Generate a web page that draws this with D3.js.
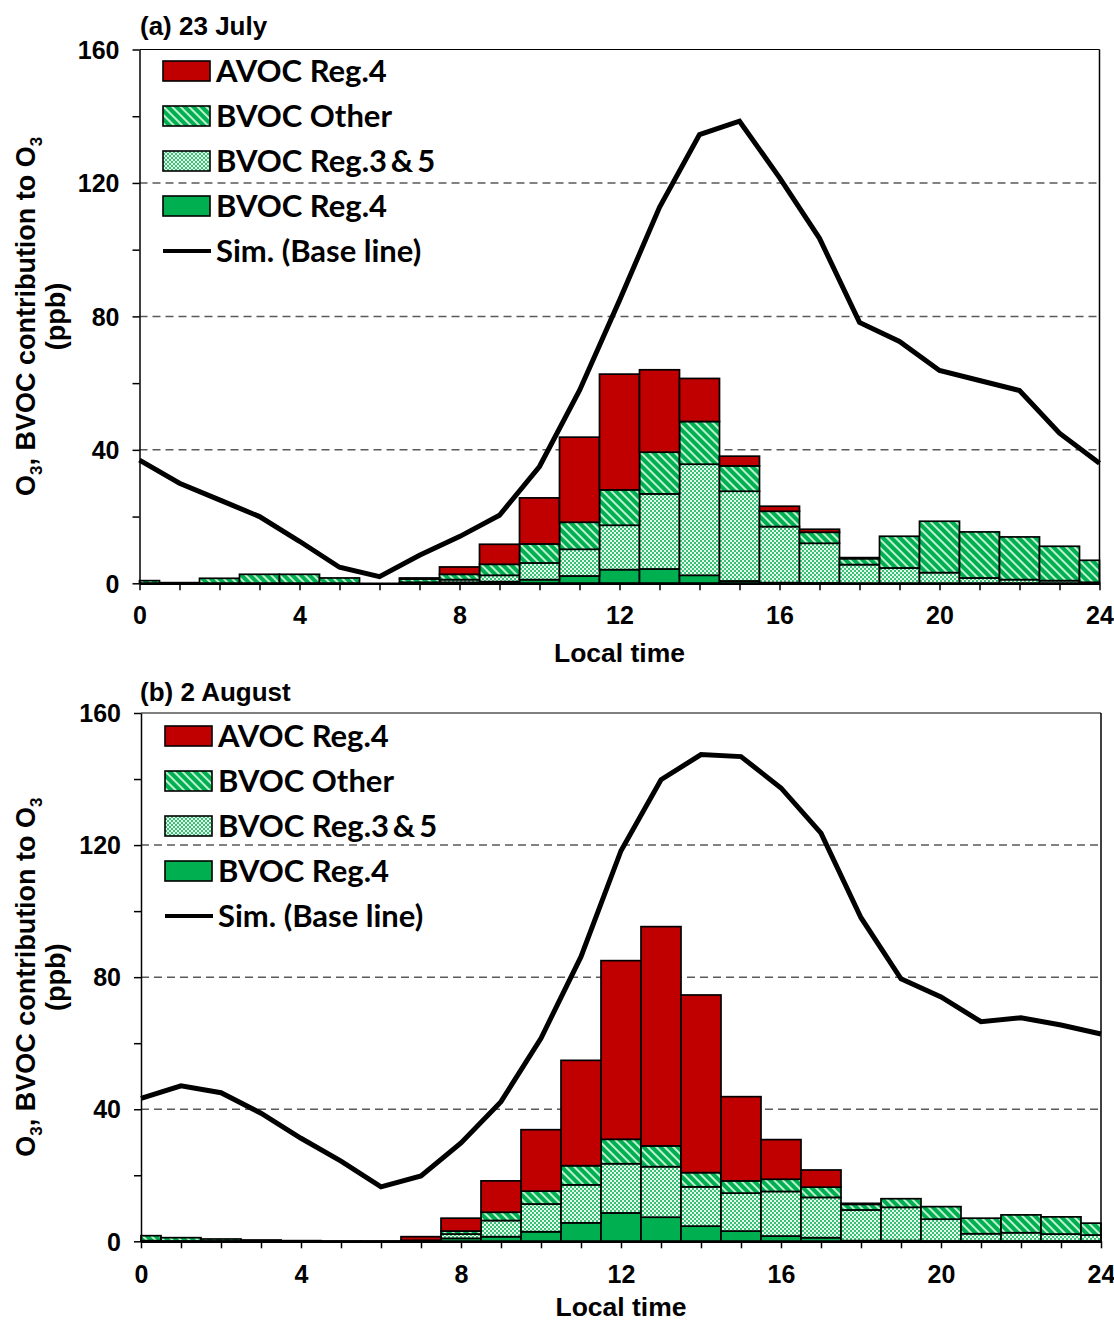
<!DOCTYPE html>
<html>
<head>
<meta charset="utf-8">
<script src="https://cdn.jsdelivr.net/npm/d3@7"></script>
<style>
  html, body { margin: 0; padding: 0; background: #fff; }
  svg { display: block; }
</style>
</head>
<body>
<svg id="chart" width="1114" height="1321"></svg>
<script>
// Hourly contributions to O3 (ppb), hours 0..24
const hours = d3.range(0, 25);

// (a) 23 July
const julBvocReg4  = [0,0,0,0,0,0,0,0,0.3,0.5,1.1,2.2,4.1,4.3,2.4,0.7,0.2,0.1,0,0,0,0,0,0,0];
const julBvocReg35 = [0,0,0,0,0,0,0,0.3,0.8,1.9,5.0,8.0,13.3,22.5,33.3,26.9,16.8,11.9,5.6,4.6,3.2,1.6,1.1,0.8,0.3];
const julBvocOther = [0.8,0.2,1.5,2.7,2.7,1.6,0,1.0,1.6,3.3,5.7,8.1,10.6,12.5,12.8,7.6,4.6,3.3,1.8,9.5,15.4,13.8,12.8,10.3,6.6];
const julAvocReg4  = [0,0,0,0,0,0,0,0.3,2.2,6.0,13.8,25.5,34.7,24.7,12.9,2.9,1.5,0.9,0.3,0,0,0,0,0,0];
const julSim       = [36.9,30.0,25.0,20.0,12.6,4.8,2.0,8.4,14.0,20.4,35.0,57.8,84.8,112.7,134.5,138.5,121.6,103.4,78.2,72.5,63.8,60.8,57.8,45.0,36.0];

// (b) 2 August
const augBvocReg4  = [0,0,0,0,0,0,0,0,0.9,1.4,2.9,5.6,8.6,7.3,4.6,3.1,1.6,1.1,0.2,0.2,0.1,0.1,0.1,0.1,0.1];
const augBvocReg35 = [0.2,0.1,0.1,0.1,0.1,0.1,0.1,0.1,1.3,4.9,8.4,11.5,14.9,15.3,11.9,11.5,13.5,12.2,9.3,10.1,6.6,2.2,2.5,2.1,1.8];
const augBvocOther = [1.5,1.0,0.6,0.3,0.1,0,0,0.2,0.9,2.5,3.9,5.8,7.4,6.3,4.3,3.7,3.7,3.1,1.7,2.6,3.8,4.7,5.4,5.2,3.6];
const augAvocReg4  = [0,0,0,0,0,0,0,1.1,3.9,9.5,18.6,31.9,54.1,66.4,53.8,25.5,12.0,5.2,0.3,0,0,0,0,0,0];
const augSim       = [43.3,47.1,45.0,38.8,31.2,24.3,16.5,19.8,29.8,42.3,61.5,86.2,118.3,139.8,147.4,146.8,137.3,123.6,98.0,79.5,74.0,66.5,67.7,65.5,62.8];

// Axis ticks and labels
const xTickValues = d3.range(0, 25, 1);
const xLabelValues = [0, 4, 8, 12, 16, 20, 24];
const yTickValues = d3.range(0, 161, 20);
const yLabelValues = [0, 40, 80, 120, 160];
const gridValues = [40, 80, 120];

const seriesKeys = ["bvocReg4", "bvocReg35", "bvocOther", "avocReg4"];
const legendItems = [
  { key: "avocReg4",  label: "AVOC Reg.4" },
  { key: "bvocOther", label: "BVOC Other" },
  { key: "bvocReg35", label: "BVOC Reg.3\u2009&\u20095" },
  { key: "bvocReg4",  label: "BVOC Reg.4" },
  { key: "sim",       label: "Sim. (Base line)" }
];

const panels = [
  { title: "(a) 23 July", reg4: julBvocReg4, reg35: julBvocReg35, other: julBvocOther, avoc: julAvocReg4, sim: julSim,
    x0: 139.5, x1: 1099.5, yBottom: 583.3, yTop: 49.5, titleY: 35, xLabelY: 624, xTitleY: 662, legendX: 163, legendY: 71 },
  { title: "(b) 2 August", reg4: augBvocReg4, reg35: augBvocReg35, other: augBvocOther, avoc: augAvocReg4, sim: augSim,
    x0: 141, x1: 1101, yBottom: 1241.3, yTop: 713, titleY: 701, xLabelY: 1283, xTitleY: 1316, legendX: 165, legendY: 736 }
];

const svg = d3.select("#chart");
const defs = svg.append("defs");

// Diagonal stripes for "BVOC Other"
const hatch = defs.append("pattern")
  .attr("id", "hatchOther").attr("patternUnits", "userSpaceOnUse")
  .attr("width", 6).attr("height", 6)
  .attr("patternTransform", "rotate(-45)");
hatch.append("rect").attr("width", 6).attr("height", 6).attr("fill", "#00B050");
hatch.append("rect").attr("x", 0).attr("y", 0).attr("width", 2).attr("height", 6).attr("fill", "#bff0d2");

// Fine dotted grid for "BVOC Reg.3 & 5"
const dots = defs.append("pattern")
  .attr("id", "dotReg35").attr("patternUnits", "userSpaceOnUse")
  .attr("width", 4).attr("height", 4);
dots.append("rect").attr("width", 4).attr("height", 4).attr("fill", "#e6f8ec");
dots.append("rect").attr("x", 0).attr("y", 0).attr("width", 2).attr("height", 2).attr("fill", "#38c275");
dots.append("rect").attr("x", 2).attr("y", 2).attr("width", 2).attr("height", 2).attr("fill", "#38c275");

const fills = {
  bvocReg4: "#00B050",
  bvocReg35: "url(#dotReg35)",
  bvocOther: "url(#hatchOther)",
  avocReg4: "#C00000"
};

const tickFont = "'Liberation Sans', Arial, sans-serif";
const legendFont = "Lato, 'Open Sans', sans-serif";

panels.forEach(p => {
  const x = d3.scaleLinear().domain([0, 24]).range([p.x0, p.x1]);
  const y = d3.scaleLinear().domain([0, 160]).range([p.yBottom, p.yTop]);
  const g = svg.append("g");

  // dashed gridlines
  g.append("g").selectAll("line").data(gridValues).join("line")
    .attr("x1", x(0)).attr("x2", x(24))
    .attr("y1", d => y(d)).attr("y2", d => y(d))
    .attr("stroke", "#5a5a5a").attr("stroke-width", 1.5)
    .attr("stroke-dasharray", "8,5");

  // stacked bars
  const rows = hours.map((h, i) => ({
    hour: h,
    bvocReg4: p.reg4[i], bvocReg35: p.reg35[i], bvocOther: p.other[i], avocReg4: p.avoc[i]
  }));
  const stacked = d3.stack().keys(seriesKeys)(rows);
  const barLeft = h => x(Math.max(0, h - 0.5));
  const barRight = h => x(Math.min(24, h + 0.5));

  g.append("g").selectAll("g").data(stacked).join("g")
    .attr("fill", s => fills[s.key])
    .selectAll("rect").data(s => s.filter(d => d[1] - d[0] > 0)).join("rect")
      .attr("x", d => barLeft(d.data.hour))
      .attr("width", d => barRight(d.data.hour) - barLeft(d.data.hour))
      .attr("y", d => y(d[1]))
      .attr("height", d => y(d[0]) - y(d[1]))
      .attr("stroke", "#000").attr("stroke-width", 1.7);

  // simulated O3 line
  const line = d3.line().x((d, i) => x(hours[i])).y(d => y(d));
  g.append("path").datum(p.sim)
    .attr("d", line).attr("fill", "none")
    .attr("stroke", "#000").attr("stroke-width", 5)
    .attr("stroke-linejoin", "miter");

  // axes
  const xAxis = d3.axisBottom(x).tickValues(xTickValues).tickSizeInner(7).tickSizeOuter(0)
    .tickFormat(d => xLabelValues.includes(d) ? d : "");
  const xg = g.append("g").attr("transform", `translate(0,${y(0)})`).call(xAxis);
  xg.select(".domain").attr("stroke-width", 2.5);
  xg.selectAll(".tick line").attr("stroke-width", 1.5);
  xg.selectAll("text").attr("font-family", tickFont).attr("font-weight", "bold")
    .attr("font-size", 25).attr("fill", "#000").attr("dy", null).attr("y", null)
    .attr("transform", `translate(0,${p.xLabelY - y(0)})`);

  const yAxis = d3.axisLeft(y).tickValues(yTickValues).tickSizeInner(7).tickSizeOuter(0)
    .tickFormat(d => yLabelValues.includes(d) ? d : "");
  const yg = g.append("g").attr("transform", `translate(${x(0)},0)`).call(yAxis);
  yg.select(".domain").attr("stroke-width", 1.5);
  yg.selectAll(".tick line").attr("stroke-width", 1.5);
  yg.selectAll("text").attr("font-family", tickFont).attr("font-weight", "bold")
    .attr("font-size", 25).attr("fill", "#000").attr("x", -20).attr("dy", "0.35em");

  // right and top frame
  g.append("line").attr("x1", x(24)).attr("x2", x(24)).attr("y1", y(0)).attr("y2", y(160))
    .attr("stroke", "#000").attr("stroke-width", 1.5);
  g.append("line").attr("x1", x(0)).attr("x2", x(24)).attr("y1", y(160)).attr("y2", y(160))
    .attr("stroke", "#000").attr("stroke-width", 1.2);

  // panel title
  g.append("text").attr("x", 140).attr("y", p.titleY).text(p.title)
    .attr("font-family", tickFont).attr("font-weight", "bold").attr("font-size", 26);

  // x title
  g.append("text").attr("x", (x(0) + x(24)) / 2).attr("y", p.xTitleY)
    .attr("text-anchor", "middle").text("Local time")
    .attr("font-family", tickFont).attr("font-weight", "bold").attr("font-size", 26.5);

  // y title (two lines)
  const cy = (y(0) + y(160)) / 2;
  const yt = g.append("text").attr("transform", `translate(35,${cy}) rotate(-90)`)
    .attr("text-anchor", "middle")
    .attr("font-family", tickFont).attr("font-weight", "bold").attr("font-size", 27);
  yt.append("tspan").text("O");
  yt.append("tspan").text("3").attr("font-size", 17).attr("dy", 7);
  yt.append("tspan").text(", BVOC contribution to O").attr("dy", -7);
  yt.append("tspan").text("3").attr("font-size", 17).attr("dy", 7);
  g.append("text").attr("transform", `translate(65,${cy}) rotate(-90)`)
    .attr("text-anchor", "middle").text("(ppb)")
    .attr("font-family", tickFont).attr("font-weight", "bold").attr("font-size", 27);

  // legend
  const lg = g.append("g").attr("transform", `translate(${p.legendX},${p.legendY})`);
  legendItems.forEach((it, i) => {
    const row = lg.append("g").attr("transform", `translate(0,${i * 45})`);
    if (it.key === "sim") {
      row.append("line").attr("x1", 0).attr("x2", 48).attr("y1", 0).attr("y2", 0)
        .attr("stroke", "#000").attr("stroke-width", 4);
    } else {
      row.append("rect").attr("x", 0).attr("y", -10).attr("width", 47).attr("height", 20)
        .attr("fill", fills[it.key]).attr("stroke", "#000").attr("stroke-width", 1.6);
    }
    row.append("text").attr("x", 53).attr("y", 0).attr("dy", "0.36em").text(it.label)
      .attr("font-family", legendFont).attr("font-weight", "bold").attr("font-size", 31);
  });
});
</script>
</body>
</html>
